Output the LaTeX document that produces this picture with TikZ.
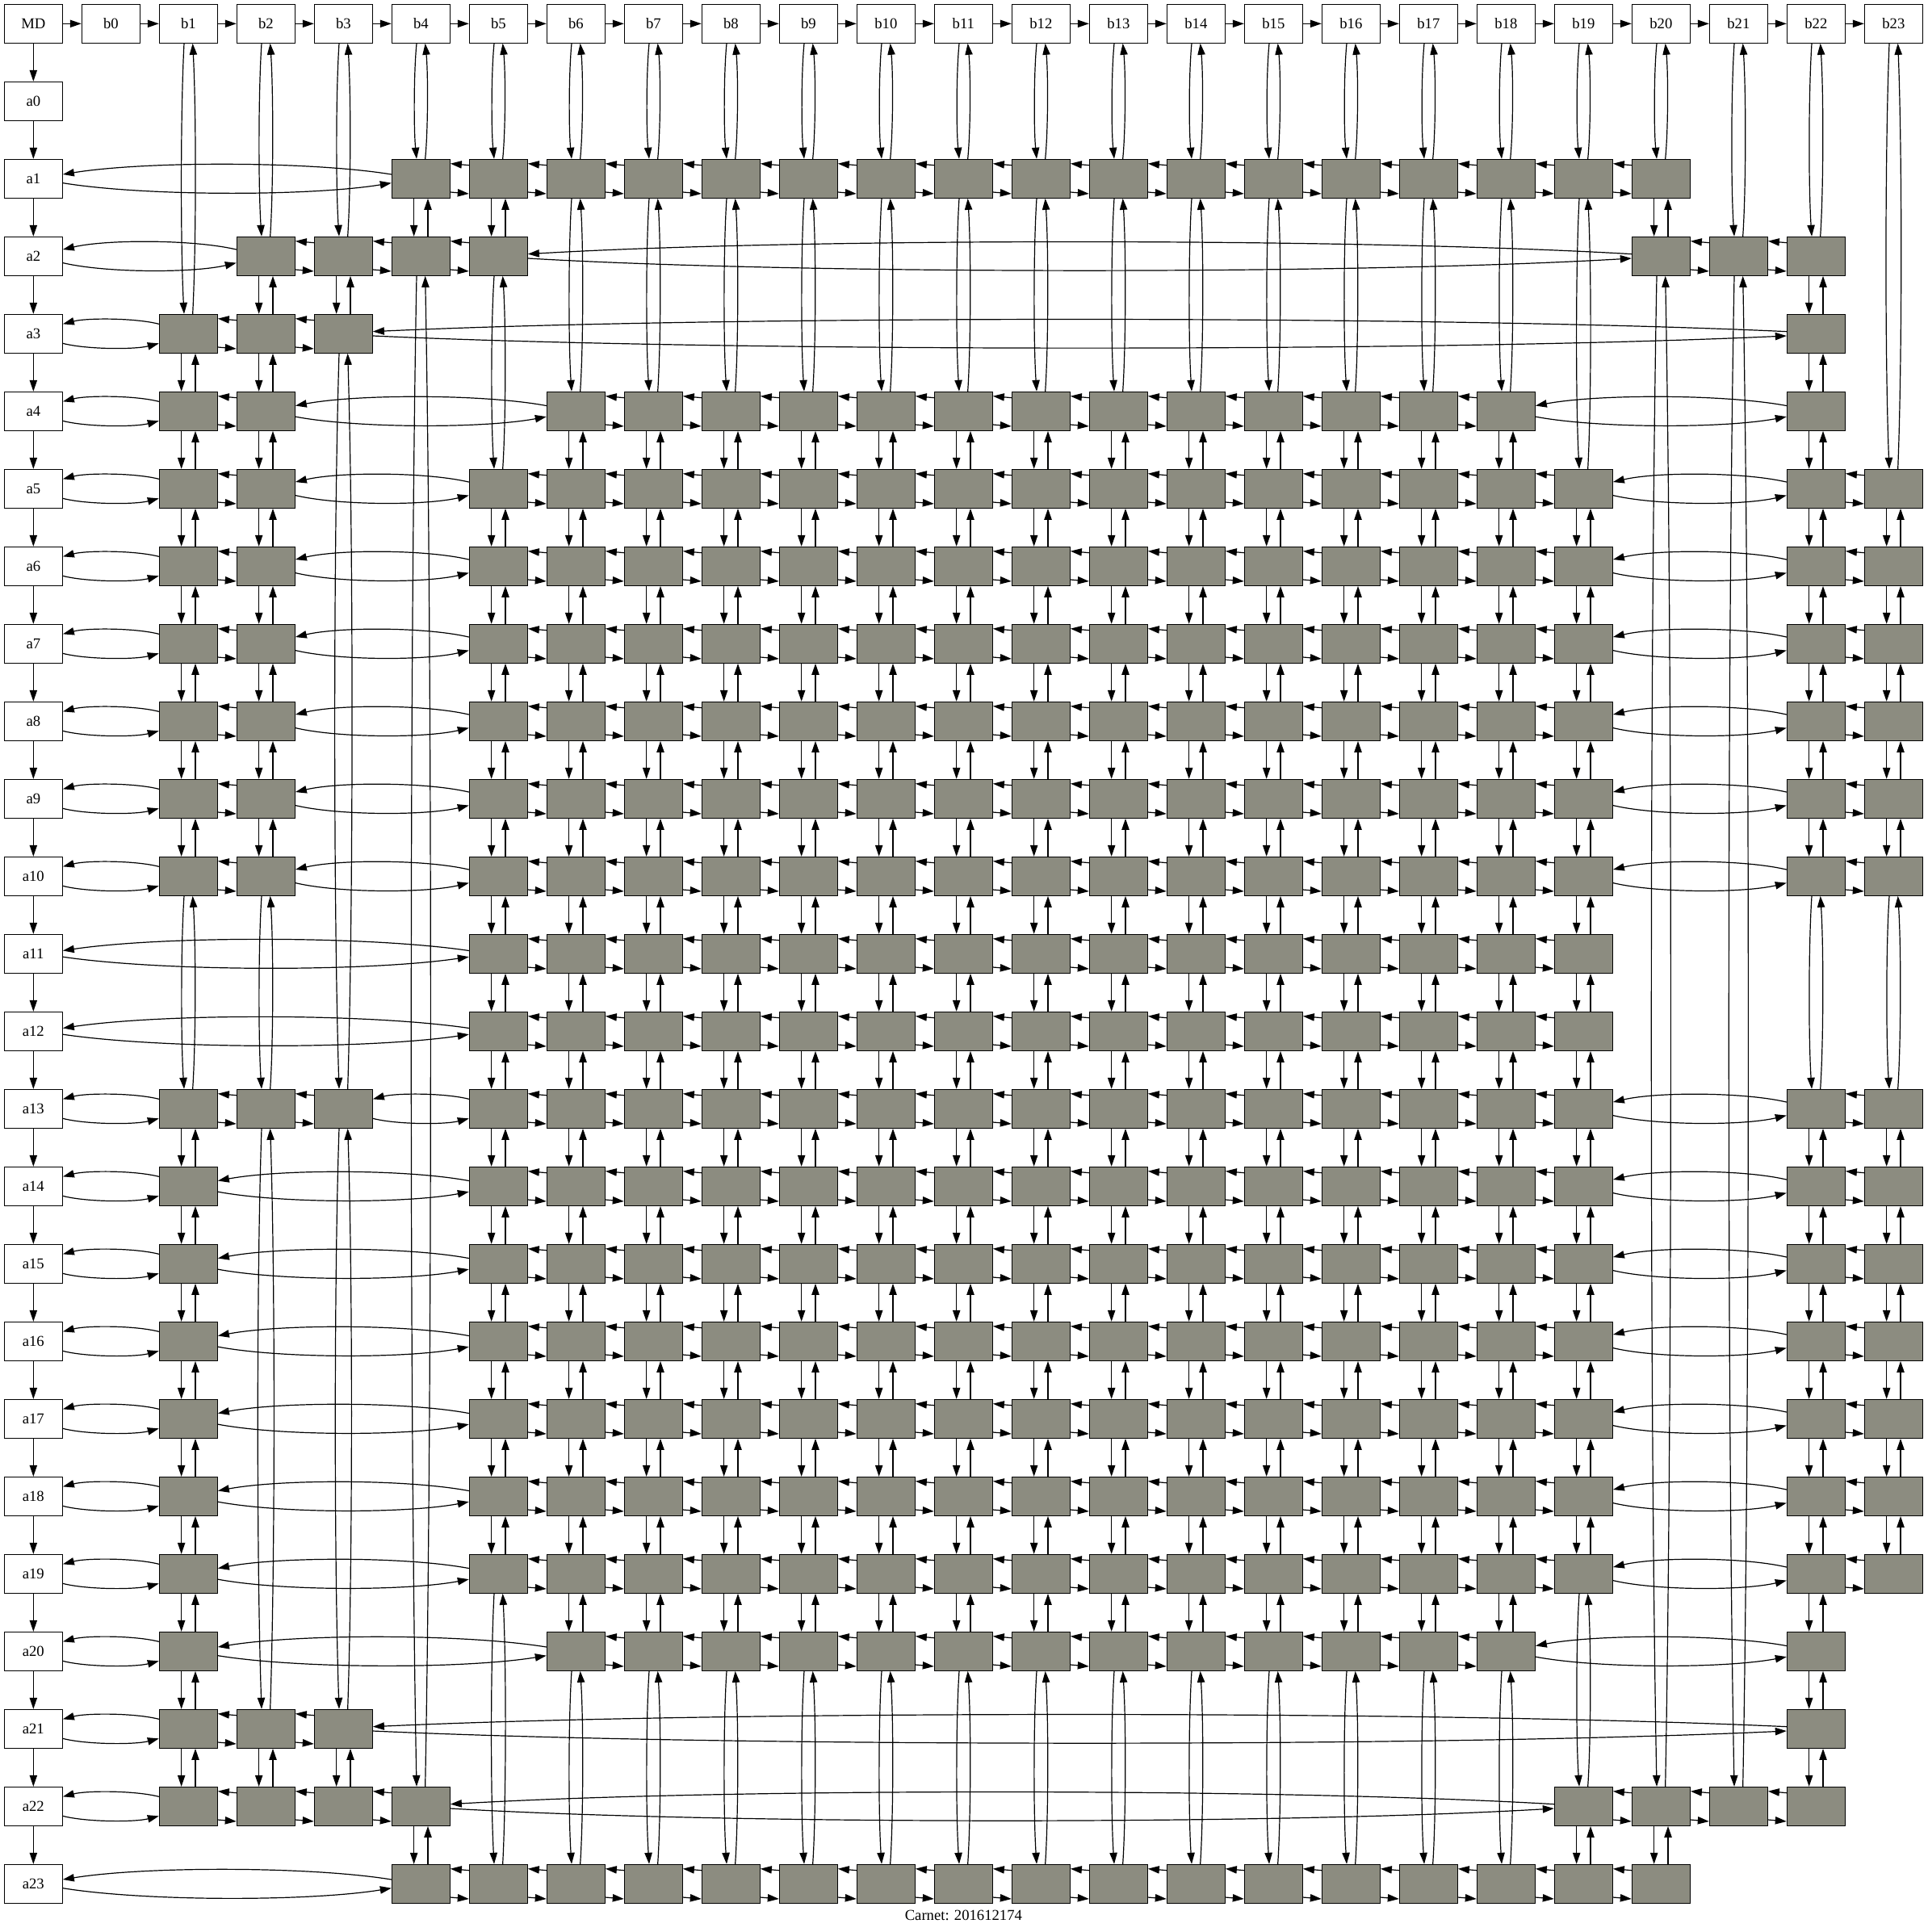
\documentclass[tikz,border=0pt]{standalone}
\usepackage{fontspec}
\setmainfont{Liberation Serif}
\usepackage{tikz}
\usetikzlibrary{arrows.meta,calc}

\definecolor{cellgray}{RGB}{140,140,128}

\tikzset{
  hdr/.style={draw, line width=0.8pt, minimum width=54pt, minimum height=36pt,
    inner sep=0pt, font=\fontsize{14pt}{17pt}\selectfont},
  cell/.style={hdr, fill=cellgray},
  arr/.style={-{Triangle[length=10.5pt,width=7pt]}, line width=0.9pt},
}

% long pair of edges, left node #1, right node #2, span #3
\newcommand{\hpair}[3]{%
  \pgfmathsetmacro\endoff{(#3==2) ? 9 : max(2,9.5-1.1*#3)}%
  \pgfmathsetmacro\bulge{(13.3-\endoff)/0.75}%
  \path ([yshift=\endoff pt]#2.west) coordinate (p) ([yshift=\endoff pt]#1.east) coordinate (q);
  \draw[arr] (p) .. controls ($(p)!0.25!(q)+(0pt,\bulge pt)$) and ($(q)!0.25!(p)+(0pt,\bulge pt)$) .. (q);
  \path ([yshift=-\endoff pt]#1.east) coordinate (p) ([yshift=-\endoff pt]#2.west) coordinate (q);
  \draw[arr] (p) .. controls ($(p)!0.25!(q)+(0pt,-\bulge pt)$) and ($(q)!0.25!(p)+(0pt,-\bulge pt)$) .. (q);
}
% neighbours in a row
\newcommand{\hnext}[2]{%
  \draw[arr] ([yshift=12.5pt]#2.west) -- ([yshift=14pt]#1.east);
  \draw[arr] ([yshift=-12.5pt]#1.east) -- ([yshift=-14pt]#2.west);
}
% long pair of edges, upper node #1, lower node #2, span #3
\newcommand{\vpair}[3]{%
  \pgfmathsetmacro\bulge{(min(9,5.5+0.25*#3)-4)/0.75}%
  \path ([xshift=-4pt]#1.south) coordinate (p) ([xshift=-4pt]#2.north) coordinate (q);
  \draw[arr] (p) .. controls ($(p)!0.25!(q)+(-\bulge pt,0pt)$) and ($(q)!0.25!(p)+(-\bulge pt,0pt)$) .. (q);
  \path ([xshift=4pt]#2.north) coordinate (p) ([xshift=4pt]#1.south) coordinate (q);
  \draw[arr] (p) .. controls ($(p)!0.25!(q)+(\bulge pt,0pt)$) and ($(q)!0.25!(p)+(\bulge pt,0pt)$) .. (q);
}
% neighbours in a column
\newcommand{\vnext}[2]{%
  \draw[arr] ([xshift=-6.5pt]#1.south) -- ([xshift=-6.5pt]#2.north);
  \draw[arr] ([xshift=6.5pt]#2.north) -- ([xshift=6.5pt]#1.south);
}

% row #1 with cells in columns #2
\newcommand{\rowchain}[2]{%
  \foreach \j [remember=\j as \p (initially 0)] in {#2} {
    \node[cell] (c#1-\j) at (\j+1,#1+1) {};
    \ifnum\p=0 \pgfmathtruncatemacro\dist{\j+1}\hpair{a#1}{c#1-\j}{\dist}%
    \else \pgfmathtruncatemacro\dist{\j-\p}%
      \ifnum\dist=1 \hnext{c#1-\p}{c#1-\j}\else \hpair{c#1-\p}{c#1-\j}{\dist}\fi
    \fi
  }
}
% column #1 with cells in rows #2
\newcommand{\colchain}[2]{%
  \foreach \i [remember=\i as \p (initially 0)] in {#2} {
    \ifnum\p=0 \pgfmathtruncatemacro\dist{\i+1}\vpair{b#1}{c\i-#1}{\dist}%
    \else \pgfmathtruncatemacro\dist{\i-\p}%
      \ifnum\dist=1 \vnext{c\p-#1}{c\i-#1}\else \vpair{c\p-#1}{c\i-#1}{\dist}\fi
    \fi
  }
}

\begin{document}
\begin{tikzpicture}[x=72pt, y=-72pt]
\useasboundingbox (-31pt,22pt) rectangle (1759.25pt,-1772.75pt);

% headers
\node[hdr] (MD) at (0,0) {MD};
\foreach \j in {0,...,23}
  \node[hdr] (b\j) at (\j+1,0) {b\j};
\foreach \i in {0,...,23}
  \node[hdr] (a\i) at (0,\i+1) {a\i};
\draw[arr] (MD) -- (b0);
\draw[arr] (MD) -- (a0);
\foreach \j [count=\k from 1] in {0,...,22} {
  \draw[arr] (b\j) -- (b\k);
  \draw[arr] (a\j) -- (a\k);
}

% rows
\rowchain{1}{4,...,20}
\rowchain{2}{2,3,4,5,20,21,22}
\rowchain{3}{1,2,3,22}
\rowchain{4}{1,2,6,7,...,18,22}
\foreach \i in {5,...,10} {\rowchain{\i}{1,2,5,6,...,19,22,23}}
\rowchain{11}{5,...,19}
\rowchain{12}{5,...,19}
\rowchain{13}{1,2,3,5,6,...,19,22,23}
\foreach \i in {14,...,19} {\rowchain{\i}{1,5,6,...,19,22,23}}
\rowchain{20}{1,6,7,...,18,22}
\rowchain{21}{1,2,3,22}
\rowchain{22}{1,2,3,4,19,20,21,22}
\rowchain{23}{4,...,20}

% columns
\colchain{1}{3,4,...,10,13,14,...,22}
\colchain{2}{2,3,...,10,13,21,22}
\colchain{3}{2,3,13,21,22}
\colchain{4}{1,2,22,23}
\colchain{5}{1,2,5,6,...,19,23}
\foreach \j in {6,...,18} {\colchain{\j}{1,4,5,...,20,23}}
\colchain{19}{1,5,6,...,19,22,23}
\colchain{20}{1,2,22,23}
\colchain{21}{2,22}
\colchain{22}{2,3,...,10,13,14,...,22}
\colchain{23}{5,6,...,10,13,14,...,19}

\node[anchor=base, font=\fontsize{14pt}{17pt}\selectfont] (caption) at (12,24.468) {Carnet: 201612174};
\end{tikzpicture}
\end{document}
